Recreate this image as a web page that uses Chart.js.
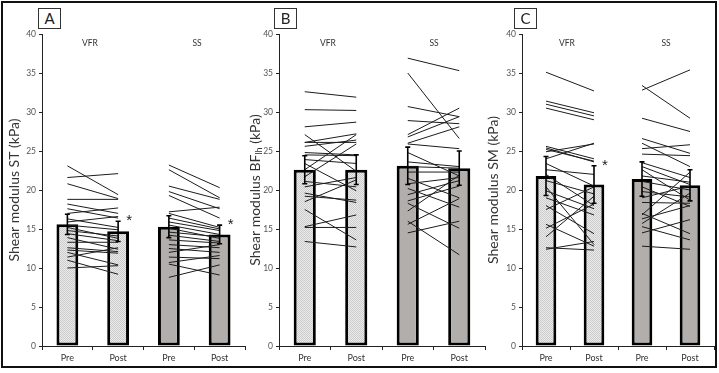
<!DOCTYPE html>
<html>
<head>
<meta charset="utf-8">
<script src="https://cdn.jsdelivr.net/npm/chart.js@4.4.1/dist/chart.umd.min.js"></script>
<style>
  html, body { margin: 0; padding: 0; background: #fff; }
  #wrap { position: relative; width: 719px; height: 373px; overflow: hidden; font-family: Lato, 'Liberation Sans', sans-serif; }
  #frame { position: absolute; left: 1px; top: 1px; width: 712px; height: 363px; border: 2px solid #111; }
  canvas { position: absolute; top: 0; }
  .tag { position: absolute; top: 8px; width: 21px; height: 19px; border: 1px solid #333; background: #fff;
         font-size: 15px; line-height: 19px; text-align: center; color: #222; }
  .grp { position: absolute; top: 38px; font-size: 8.5px; color: #333; transform: translateX(-50%); }
</style>
</head>
<body>
<div id="wrap">
  <div id="frame"></div>
  <canvas id="panelA" width="250" height="373" style="left:0px"></canvas>
  <canvas id="panelB" width="250" height="373" style="left:240px"></canvas>
  <canvas id="panelC" width="241" height="373" style="left:478px"></canvas>
  <div class="tag" style="left:38px">A</div>
  <div class="tag" style="left:274px">B</div>
  <div class="tag" style="left:514px">C</div>
  <div class="grp" style="left:90px">VFR</div>
  <div class="grp" style="left:197px">SS</div>
  <div class="grp" style="left:328px">VFR</div>
  <div class="grp" style="left:434px">SS</div>
  <div class="grp" style="left:567px">VFR</div>
  <div class="grp" style="left:666px">SS</div>
</div>
<script>
// ── Data ──
const categories = ['Pre', 'Post', 'Pre', 'Post'];

// A: semitendinosus
const stMeans = [15.6, 14.7, 15.3, 14.3];
const stErr = [1.3, 1.3, 1.4, 1.2];
const stStars = [false, true, false, true];
const stVfrPre  = [23.1, 21.6, 20.8, 18.8, 18.2, 17.6, 17.0, 16.3, 15.9, 15.5, 15.2, 14.8, 14.4, 13.9, 13.3, 12.6, 12.3, 12.0, 11.4, 11.0, 10.0];
const stVfrPost = [19.4, 22.1, 18.9, 18.8, 17.0, 16.4, 17.7, 15.2, 16.6, 14.9, 13.8, 14.1, 13.5, 12.4, 13.3, 12.1, 11.9, 10.4, 12.6, 9.2, 10.3];
const stSsPre   = [23.2, 22.6, 20.5, 19.8, 19.3, 17.2, 17.0, 16.4, 15.9, 15.5, 15.1, 14.6, 14.2, 13.6, 13.0, 12.5, 12.0, 11.4, 10.7, 10.5, 8.8];
const stSsPost  = [20.3, 19.0, 18.8, 17.6, 16.4, 17.8, 15.2, 15.0, 14.8, 14.3, 13.8, 14.0, 13.4, 13.2, 12.6, 12.0, 13.0, 11.2, 11.6, 9.1, 10.4];

// B: biceps femoris long head
const bfMeans = [22.6, 22.6, 23.1, 22.8];
const bfErr = [1.8, 1.9, 2.4, 2.2];
const bfStars = [false, false, false, false];
const bfVfrPre  = [32.6, 30.3, 28.1, 27.1, 26.1, 26.1, 25.6, 24.8, 24.5, 23.9, 23.4, 22.6, 21.7, 21.1, 20.4, 19.6, 19.2, 18.5, 17.5, 15.3, 15.2, 13.4];
const bfVfrPost = [31.9, 30.2, 28.7, 22.4, 27.2, 26.1, 26.4, 24.5, 24.4, 23.4, 19.9, 27.1, 25.9, 20.4, 21.6, 18.4, 18.7, 21.3, 13.6, 16.8, 15.2, 12.7];
const bfSsPre   = [36.9, 35.0, 30.7, 28.9, 27.1, 26.8, 26.0, 25.9, 24.8, 23.6, 23.0, 22.3, 21.5, 20.8, 20.2, 19.4, 18.6, 18.3, 17.3, 16.0, 15.6, 14.5];
const bfSsPost  = [35.3, 26.6, 29.4, 28.5, 30.5, 29.4, 28.1, 25.3, 21.8, 23.0, 22.8, 22.3, 19.0, 21.6, 17.8, 21.2, 20.5, 15.1, 21.9, 11.7, 18.9, 16.0];

// C: semimembranosus
const smMeans = [21.8, 20.7, 21.4, 20.6];
const smErr = [2.5, 2.4, 2.2, 2.0];
const smStars = [false, true, false, false];
const smVfrPre  = [35.1, 31.4, 31.0, 30.5, 25.6, 25.4, 25.2, 24.9, 24.0, 23.4, 22.6, 22.0, 21.2, 20.4, 19.9, 19.0, 18.0, 17.5, 15.6, 15.1, 14.0, 12.6, 12.4];
const smVfrPost = [32.7, 29.9, 29.5, 29.0, 24.0, 23.6, 23.7, 25.9, 26.0, 20.5, 22.0, 18.0, 19.5, 13.0, 17.6, 16.8, 14.4, 20.4, 12.8, 18.2, 19.2, 12.3, 13.4];
const smSsPre   = [32.8, 33.4, 29.2, 26.6, 26.0, 25.3, 24.6, 23.5, 23.0, 22.6, 21.8, 21.1, 20.4, 19.8, 19.0, 18.4, 17.0, 15.7, 15.3, 16.3, 12.8, 14.5, 16.8];
const smSsPost  = [35.4, 29.2, 27.5, 24.7, 23.0, 25.8, 24.4, 21.6, 20.7, 18.7, 21.0, 20.0, 17.9, 19.1, 20.5, 18.3, 14.4, 19.6, 13.6, 18.0, 12.4, 16.2, 22.3];

const FONT = "Lato, 'Liberation Sans', sans-serif";
const SS_GRAY = '#b2aeab';

// ── Plugins ──
const errorBars = {
  id: 'errorBars',
  afterDatasetsDraw(chart, args, opts) {
    const { ctx, scales: { x, y } } = chart;
    ctx.save();
    ctx.strokeStyle = '#000';
    ctx.lineWidth = 1.6;
    opts.means.forEach((m, i) => {
      const px = x.getPixelForValue(i);
      const top = y.getPixelForValue(m + opts.errs[i]);
      const bot = y.getPixelForValue(m - opts.errs[i]);
      ctx.beginPath();
      ctx.moveTo(px, top); ctx.lineTo(px, bot);
      ctx.moveTo(px - 2.5, top); ctx.lineTo(px + 2.5, top);
      ctx.moveTo(px - 2.5, bot); ctx.lineTo(px + 2.5, bot);
      ctx.stroke();
      if (opts.stars[i]) {
        ctx.fillStyle = '#222';
        ctx.font = "15px 'Liberation Sans', sans-serif";
        ctx.textAlign = 'center';
        ctx.textBaseline = 'alphabetic';
        ctx.fillText('*', px + 11, top + 4);
      }
    });
    ctx.restore();
  }
};

// y title drawn by hand so BF can carry its "lh" subscript
const yTitle = {
  id: 'yTitle',
  afterDraw(chart, args, opts) {
    const { ctx, chartArea } = chart;
    const main = '14px ' + FONT, sub = '9px ' + FONT;
    ctx.save();
    let w = 0;
    opts.parts.forEach(p => { ctx.font = p.sub ? sub : main; w += ctx.measureText(p.t).width; });
    ctx.translate(opts.x, (chartArea.top + chartArea.bottom) / 2);
    ctx.rotate(-Math.PI / 2);
    ctx.fillStyle = '#333';
    ctx.textBaseline = 'middle';
    ctx.textAlign = 'left';
    let cx = -w / 2;
    opts.parts.forEach(p => {
      ctx.font = p.sub ? sub : main;
      ctx.fillText(p.t, cx, p.sub ? 4 : 0);
      cx += ctx.measureText(p.t).width;
    });
    ctx.restore();
  }
};

// ── Panel builder ──
function makePanel(id, cfg) {
  const canvas = document.getElementById(id);
  const ctx = canvas.getContext('2d');
  const tile = document.createElement('canvas');
  tile.width = 2; tile.height = 2;
  const tg = tile.getContext('2d');
  tg.fillStyle = '#ebebeb'; tg.fillRect(0, 0, 2, 2);
  tg.fillStyle = '#cbcbcb'; tg.fillRect(0, 0, 1, 1); tg.fillRect(1, 1, 1, 1);
  const dither = ctx.createPattern(tile, 'repeat');

  const lineStyle = { type: 'line', borderColor: '#1c1c1c', borderWidth: 1, pointRadius: 0, fill: false, spanGaps: false, order: 1 };
  const lines = [];
  cfg.vfrPre.forEach((v, i) => lines.push({ ...lineStyle, data: [v, cfg.vfrPost[i], null, null] }));
  cfg.ssPre.forEach((v, i) => lines.push({ ...lineStyle, data: [null, null, v, cfg.ssPost[i]] }));

  new Chart(canvas, {
    type: 'bar',
    data: {
      labels: categories,
      datasets: [{
        data: cfg.means,
        backgroundColor: [dither, dither, SS_GRAY, SS_GRAY],
        borderColor: '#000', borderWidth: 3, borderSkipped: false,
        barPercentage: 0.43, categoryPercentage: 1, order: 3,
      }, ...lines]
    },
    options: {
      responsive: false, animation: false, events: [],
      layout: { autoPadding: false, padding: { left: 0, right: 5, top: 34, bottom: 0 } },
      plugins: {
        legend: { display: false }, tooltip: { enabled: false },
        errorBars: { means: cfg.means, errs: cfg.errs, stars: cfg.stars },
        yTitle: { parts: cfg.title, x: cfg.titleX },
      },
      scales: {
        x: {
          grid: { offset: true, drawOnChartArea: false, tickLength: 4, color: '#222' },
          border: { color: '#222', width: 1 },
          ticks: { color: '#333', font: { family: FONT, size: 9 }, padding: 3 },
          afterFit(s) { s.height = 27; }
        },
        y: {
          min: 0, max: 40,
          ticks: { stepSize: 5, color: '#555', font: { family: FONT, size: 8.5 }, padding: 3 },
          grid: { drawOnChartArea: false, tickLength: 3, color: '#222' },
          border: { color: '#222', width: 1 },
          afterFit(s) { s.width = cfg.axisW; }
        }
      }
    },
    plugins: [errorBars, yTitle]
  });
}

makePanel('panelA', {
  means: stMeans, errs: stErr, stars: stStars,
  vfrPre: stVfrPre, vfrPost: stVfrPost, ssPre: stSsPre, ssPost: stSsPost,
  axisW: 42, titleX: 14,
  title: [{ t: 'Shear modulus ST (kPa)' }]
});
makePanel('panelB', {
  means: bfMeans, errs: bfErr, stars: bfStars,
  vfrPre: bfVfrPre, vfrPost: bfVfrPost, ssPre: bfSsPre, ssPost: bfSsPost,
  axisW: 39, titleX: 15,
  title: [{ t: 'Shear modulus BF' }, { t: 'lh', sub: true }, { t: ' (kPa)' }]
});
makePanel('panelC', {
  means: smMeans, errs: smErr, stars: smStars,
  vfrPre: smVfrPre, vfrPost: smVfrPost, ssPre: smSsPre, ssPost: smSsPost,
  axisW: 44, titleX: 15,
  title: [{ t: 'Shear modulus SM (kPa)' }]
});
</script>
</body>
</html>
